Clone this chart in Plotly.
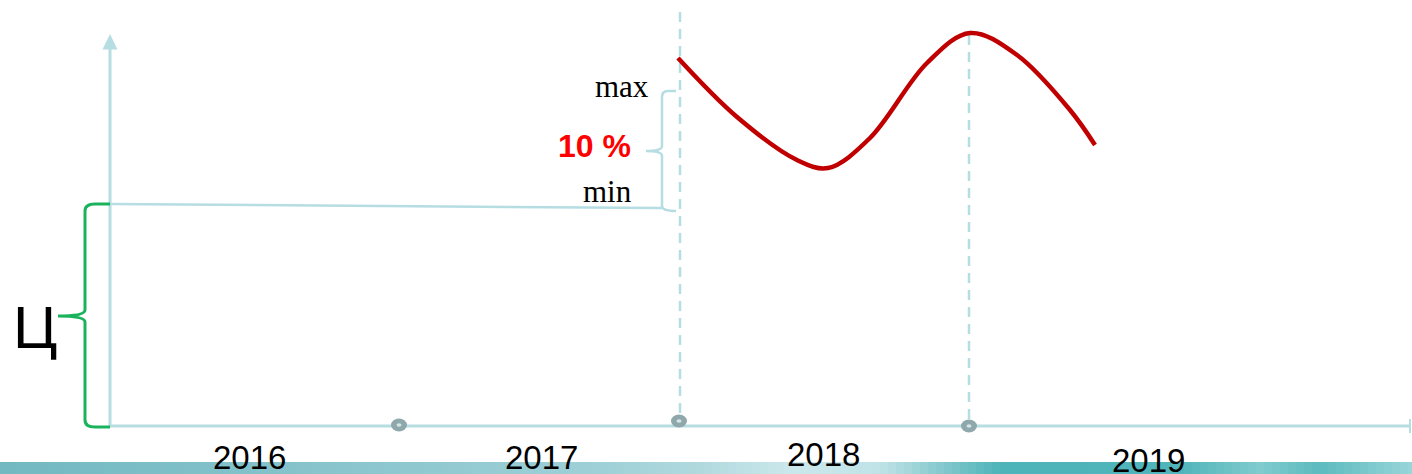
import plotly.graph_objects as go

# ---------------- data ----------------
years = ["2016", "2017", "2018", "2019"]
year_x = [249, 541, 823, 1148]
year_y = [457, 457, 454, 460]

boundary_x = [399, 679, 969]
boundary_y = [425, 421, 426]

curve_x = [678, 737, 797, 828, 870, 927, 970, 1017, 1070, 1095]
curve_y = [58, 117, 160, 168, 138, 63, 33, 55, 110, 145]

price_level = [204, 208]      # start / end of the horizontal price line
range_top = 91                 # max level
range_mid = 151
range_bottom = 210

label_max = "max"
label_min = "min"
label_pct = "10 %"
label_price = "Ц"

# ---------------- styles ----------------
AXIS = "#b5dde2"
GREEN = "#18b35a"
RED = "#c00000"
GREY = "#8ea8ab"

fig = go.Figure()

def line(xs, ys, color=AXIS, width=3, dash=None, shape="linear", smoothing=1):
    fig.add_trace(go.Scatter(x=xs, y=ys, mode="lines", hoverinfo="skip",
                             line=dict(color=color, width=width, dash=dash, shape=shape,
                                       smoothing=smoothing)))

shapes = []

# bottom gradient strip
stops = [(0, (0x72, 0xb9, 0xc2)), (300, (0x86, 0xc3, 0xcb)), (600, (0x9f, 0xd0, 0xd7)),
         (700, (0xb0, 0xd9, 0xde)), (790, (0xcb, 0xe8, 0xeb)), (880, (0xc0, 0xe3, 0xe7)),
         (950, (0x7c, 0xc5, 0xca)), (1000, (0x4d, 0xb4, 0xb9)), (1180, (0x50, 0xb5, 0xba)),
         (1260, (0x80, 0xcb, 0xce)), (1320, (0x5c, 0xbb, 0xbf)), (1412, (0x98, 0xd5, 0xd9))]

def col_at(x):
    for (x0, c0), (x1, c1) in zip(stops[:-1], stops[1:]):
        if x0 <= x <= x1:
            t = (x - x0) / (x1 - x0)
            return "rgb(%d,%d,%d)" % tuple(round(a + (b - a) * t) for a, b in zip(c0, c1))
    return "rgb(%d,%d,%d)" % stops[-1][1]

step = 8
for x0 in range(0, 1412, step):
    shapes.append(dict(type="rect", xref="x", yref="y", x0=x0, x1=x0 + step + 0.5,
                       y0=462, y1=474, fillcolor=col_at(x0 + step / 2),
                       line=dict(width=0), layer="below"))

# axes
line([110, 110], [427, 48])
line([110, 1410], [426, 426])
line([1410, 1410], [419, 433], width=2)
shapes.append(dict(type="path", xref="x", yref="y",
                   path="M 102.5 49.5 L 110 34 L 117.5 49.5 Z",
                   fillcolor=AXIS, line=dict(width=0)))

# dashed verticals
line([boundary_x[1] + 1, boundary_x[1] + 1], [12, 418], width=2.5, dash="10px,7px")
line([boundary_x[2], boundary_x[2]], [35, 420], width=2.5, dash="10px,7px")

# horizontal price line
line([110, 662], price_level, width=2.5)

# small bracket (min-max)
bx = 662
shapes.append(dict(type="path", xref="x", yref="y", line=dict(color=AXIS, width=2.5),
                   path=(f"M 676 {range_top} L 668 {range_top} Q {bx} {range_top} {bx} {range_top+6} "
                         f"L {bx} {range_mid-5} Q {bx} {range_mid} 646 {range_mid} "
                         f"Q {bx} {range_mid} {bx} {range_mid+5} "
                         f"L {bx} {range_bottom-4} Q {bx} {range_bottom+1} 676 {range_bottom+1}")))

# green bracket
gx = 85
mid = 316
shapes.append(dict(type="path", xref="x", yref="y", line=dict(color=GREEN, width=3),
                   path=(f"M 110 {price_level[0]} L 95 {price_level[0]} Q {gx} {price_level[0]} {gx} {price_level[0]+7} "
                         f"L {gx} {mid-6} Q {gx} {mid} 58 {mid} "
                         f"Q {gx} {mid} {gx} {mid+6} "
                         f"L {gx} 420 Q {gx} 427 95 427 L 110 427")))

# boundary markers
for bxm, bym in zip(boundary_x, boundary_y):
    shapes.append(dict(type="circle", xref="x", yref="y", x0=bxm - 8, x1=bxm + 8,
                       y0=bym - 6.5, y1=bym + 6.5, fillcolor=GREY, line=dict(width=0)))
    shapes.append(dict(type="circle", xref="x", yref="y", x0=bxm - 2.5, x1=bxm + 2.5,
                       y0=bym - 1.8, y1=bym + 1.8, fillcolor="#d6e6e7", line=dict(width=0)))

# red price curve
line(curve_x, curve_y, color=RED, width=4.5, shape="spline", smoothing=1)

# ---------------- texts ----------------
ann = []
for t, x, y in zip(years, year_x, year_y):
    ann.append(dict(text=t, x=x, y=y, xanchor="center", yanchor="middle", showarrow=False,
                    font=dict(family="Liberation Sans, Arial", size=33, color="#000")))
ann.append(dict(text=label_price, x=35, y=327, xanchor="center", yanchor="middle", showarrow=False,
                font=dict(family="Liberation Sans, Arial", size=60, color="#000")))
ann.append(dict(text=label_max, x=651, y=86, xanchor="right", yanchor="middle", showarrow=False,
                font=dict(family="Liberation Serif, Times New Roman", size=31, color="#000")))
ann.append(dict(text=label_min, x=634, y=191, xanchor="right", yanchor="middle", showarrow=False,
                font=dict(family="Liberation Serif, Times New Roman", size=31, color="#000")))
ann.append(dict(text="<b>" + label_pct + "</b>", x=633, y=146, xanchor="right", yanchor="middle",
                showarrow=False, font=dict(family="Liberation Sans, Arial", size=32, color="#ff0000")))

fig.update_layout(
    width=1412, height=474, margin=dict(l=0, r=0, t=0, b=0),
    paper_bgcolor="white", plot_bgcolor="white", showlegend=False,
    xaxis=dict(range=[0, 1412], visible=False, fixedrange=True),
    yaxis=dict(range=[474, 0], visible=False, fixedrange=True),
    shapes=shapes, annotations=ann,
)

fig.write_html("out.html", config={"displayModeBar": False},
               post_script="document.body.style.margin='0px';document.body.style.overflow='hidden';")
